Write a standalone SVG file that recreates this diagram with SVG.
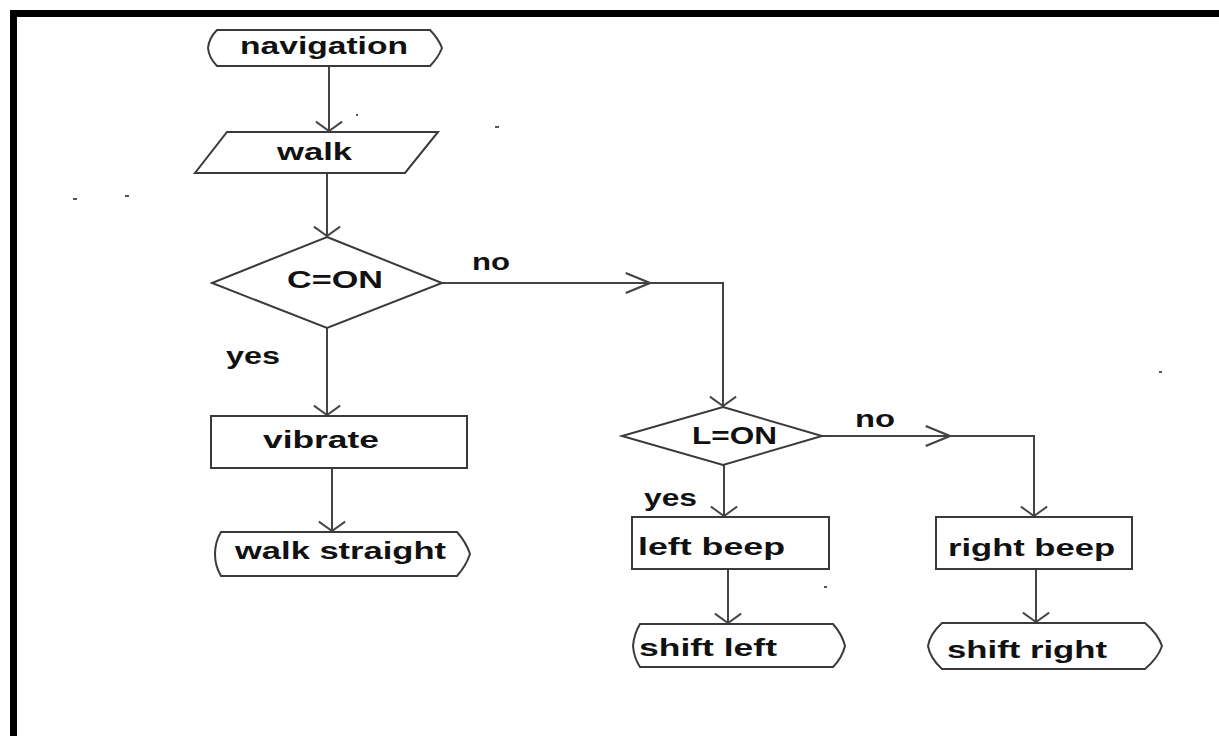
<svg xmlns="http://www.w3.org/2000/svg" width="1219" height="736" viewBox="0 0 1219 736">
<style>
.shape{fill:#fff;stroke:#3a3a3a;stroke-width:2;stroke-linejoin:miter}
.conn{fill:none;stroke:#444;stroke-width:2}
.t{font-family:"Liberation Sans",Arial,sans-serif;font-weight:bold;font-size:23px;fill:#111}
.speck{fill:#555}
</style>
<defs>
<marker id="av" markerUnits="userSpaceOnUse" markerWidth="30" markerHeight="30" refX="0" refY="0" viewBox="-12 -16 14 32" orient="auto" overflow="visible">
<path d="M-10,-14 L0,0 L-10,14" fill="none" stroke="#444" stroke-width="2"/>
</marker>
<marker id="ah" markerUnits="userSpaceOnUse" markerWidth="30" markerHeight="30" refX="0" refY="0" viewBox="-19 -9 21 18" orient="auto" overflow="visible">
<path d="M-17,-7 L0,0 L-17,7" fill="none" stroke="#444" stroke-width="1.6"/>
</marker>
</defs>
<rect width="1219" height="736" fill="#fff"/>
<g id="border">
<line x1="10" y1="13.5" x2="1219" y2="13.5" stroke="#000" stroke-width="7"/>
<line x1="13.5" y1="10" x2="13.5" y2="736" stroke="#000" stroke-width="7"/>
</g>
<g id="connectors">
<path class="conn" d="M329,66 L329,131" marker-end="url(#av)"/>
<path class="conn" d="M327,173 L327,236" marker-end="url(#av)"/>
<path class="conn" d="M327,328 L327,415" marker-end="url(#av)"/>
<path class="conn" d="M332,468 L332,531" marker-end="url(#av)"/>
<path class="conn" d="M442,283 L650,283" marker-end="url(#ah)"/>
<path class="conn" d="M650,283 L723,283 L723,406" marker-end="url(#av)"/>
<path class="conn" d="M724,465 L724,516" marker-end="url(#av)"/>
<path class="conn" d="M728,569 L728,623" marker-end="url(#av)"/>
<path class="conn" d="M822,436 L950,436" marker-end="url(#ah)"/>
<path class="conn" d="M950,436 L1034,436 L1034,516" marker-end="url(#av)"/>
<path class="conn" d="M1036,569 L1036,622" marker-end="url(#av)"/>
</g>
<g id="labels">
<text class="t" x="472" y="270" textLength="38" lengthAdjust="spacingAndGlyphs">no</text>
<text class="t" x="226" y="364" textLength="54" lengthAdjust="spacingAndGlyphs">yes</text>
<text class="t" x="644" y="506" textLength="53" lengthAdjust="spacingAndGlyphs">yes</text>
<text class="t" x="855" y="427" textLength="40" lengthAdjust="spacingAndGlyphs">no</text>
</g>
<g id="navigation">
<path class="shape" d="M217,30 L430,30 Q438,38 442,48 Q438,58 430,66 L217,66 Q209,58 208,48 Q209,38 217,30 Z"/>
<text class="t" x="240" y="54" textLength="168" lengthAdjust="spacingAndGlyphs">navigation</text>
</g>
<g id="walk">
<path class="shape" d="M227,132 L438,132 L405,173 L195,173 Z"/>
<text class="t" x="277" y="160" textLength="75" lengthAdjust="spacingAndGlyphs">walk</text>
</g>
<g id="c_on">
<path class="shape" d="M327,237 L442,283 L327,328 L212,283 Z"/>
<text class="t" x="287" y="288" textLength="96" lengthAdjust="spacingAndGlyphs">C=ON</text>
</g>
<g id="vibrate">
<rect class="shape" x="211" y="416" width="256" height="52"/>
<text class="t" x="263" y="448" textLength="116" lengthAdjust="spacingAndGlyphs">vibrate</text>
</g>
<g id="walk_straight">
<path class="shape" d="M221,532 L457,532 Q466,542 470,554 Q466,566 457,576 L221,576 Q215,566 215,554 Q215,542 221,532 Z"/>
<text class="t" x="235" y="559" textLength="211" lengthAdjust="spacingAndGlyphs">walk straight</text>
</g>
<g id="l_on">
<path class="shape" d="M723,407 L822,436 L723,465 L622,436 Z"/>
<text class="t" x="692" y="444" textLength="85" lengthAdjust="spacingAndGlyphs">L=ON</text>
</g>
<g id="left_beep">
<rect class="shape" x="632" y="517" width="197" height="52"/>
<text class="t" x="638" y="555" textLength="147" lengthAdjust="spacingAndGlyphs">left beep</text>
</g>
<g id="shift_left">
<path class="shape" d="M640,624 L833,624 Q842,634 845,646 Q842,658 833,667 L640,667 Q634,658 633,646 Q634,634 640,624 Z"/>
<text class="t" x="639" y="656" textLength="138" lengthAdjust="spacingAndGlyphs">shift left</text>
</g>
<g id="right_beep">
<rect class="shape" x="936" y="517" width="196" height="52"/>
<text class="t" x="948" y="556" textLength="167" lengthAdjust="spacingAndGlyphs">right beep</text>
</g>
<g id="shift_right">
<path class="shape" d="M942,623 L1145,623 Q1158,634 1162,646 Q1158,658 1145,669 L942,669 Q930,658 928,646 Q930,634 942,623 Z"/>
<text class="t" x="947" y="658" textLength="160" lengthAdjust="spacingAndGlyphs">shift right</text>
</g>
<g id="specks">
<rect class="speck" x="356" y="114" width="2" height="2"/>
<rect class="speck" x="495" y="126" width="4" height="2"/>
<rect class="speck" x="73" y="198" width="4" height="2"/>
<rect class="speck" x="125" y="195" width="4" height="2"/>
<rect class="speck" x="824" y="586" width="3" height="2"/>
<rect class="speck" x="1159" y="371" width="3" height="2"/>
</g>
</svg>
